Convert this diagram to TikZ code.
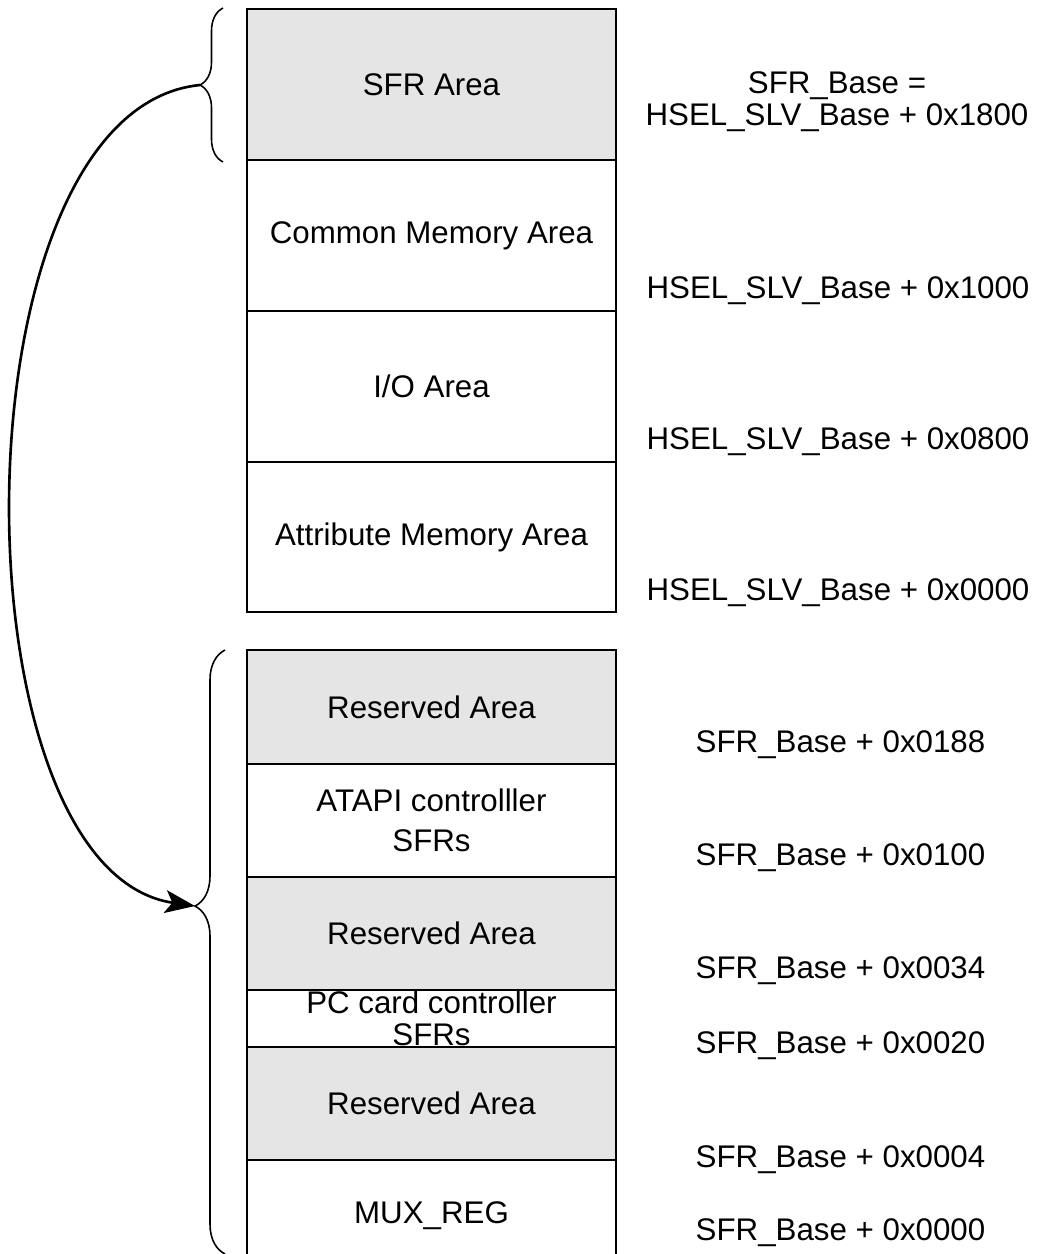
\documentclass[tikz,border=0pt]{standalone}
\usepackage{fontspec}
\setmainfont{Liberation Sans}
\usepackage{tikz}
\usetikzlibrary{arrows.meta,positioning,decorations.pathreplacing}
\definecolor{resvgray}{HTML}{E5E5E5}

\begin{document}
\begin{tikzpicture}[
			area/.style={draw=black,line width=1.1pt,fill=white,minimum width=7.38cm,align=center,outer sep=0pt,inner sep=0pt,font=\fontsize{17.8}{23}\selectfont},
			resv/.style={area,fill=resvgray},
			addr/.style={align=center,font=\fontsize{17.8}{18}\selectfont},
			brc/.style={decorate,line width=0.9pt},
			arr/.style={-{Stealth[length=17pt,width=13pt,inset=4pt]},line width=1.5pt}
			]
			\useasboundingbox (0,0) rectangle (20.72,-25.08);
			% HSEL slave map
			\node[resv,minimum height=3.02cm,anchor=north] (sfr) at (8.63,-0.18) {SFR Area};
			\node[area,minimum height=3.02cm] (common) [below=0pt of sfr] {Common Memory Area};
			\node[area,minimum height=3.02cm] (io) [below=0pt of common] {I/O Area};
			\node[area,minimum height=3.00cm] (attr) [below=0pt of io] {Attribute Memory Area};
			% SFR map
			\node[resv,minimum height=2.28cm,anchor=north] (resva) at (8.63,-13.0) {Reserved Area};
			\node[area,minimum height=2.26cm] (atapi) [below=0pt of resva] {ATAPI controlller\\SFRs};
			\node[resv,minimum height=2.26cm] (resvb) [below=0pt of atapi] {Reserved Area};
			\node[area,minimum height=1.14cm,font=\fontsize{17.8}{18.5}\selectfont] (pccard) [below=0pt of resvb] {PC card controller\\SFRs};
			\node[resv,minimum height=2.26cm] (resvc) [below=0pt of pccard] {Reserved Area};
			\node[area,minimum height=2.24cm] (mux) [below=0pt of resvc] {MUX\_REG};
			% addresses
			\node[addr] (sfrbase) at (16.74,-2.04) {SFR\_Base =\\HSEL\_SLV\_Base + 0x1800};
			\node[addr] (hsela) at (16.76,-5.82) {HSEL\_SLV\_Base + 0x1000};
			\node[addr] (hselb) at (16.76,-8.84) {HSEL\_SLV\_Base + 0x0800};
			\node[addr] (hselc) at (16.76,-11.86) {HSEL\_SLV\_Base + 0x0000};
			\node[addr] (sfra) at (16.81,-14.90) {SFR\_Base + 0x0188};
			\node[addr] (sfrb) at (16.81,-17.16) {SFR\_Base + 0x0100};
			\node[addr] (sfrc) at (16.81,-19.42) {SFR\_Base + 0x0034};
			\node[addr] (sfrd) at (16.81,-20.92) {SFR\_Base + 0x0020};
			\node[addr] (sfre) at (16.81,-23.20) {SFR\_Base + 0x0004};
			\node[addr] (sfrf) at (16.81,-24.66) {SFR\_Base + 0x0000};
			% braces and the link between them
			\draw[brc,decoration={brace,amplitude=0.46cm,aspect=0.5}] (4.46,-3.24) -- (4.46,-0.16);
			\draw[brc,decoration={brace,amplitude=0.6cm,aspect=0.576}] (4.50,-25.08) -- (4.50,-13.0);
			\coordinate (tipa) at (4.0,-1.70);
			\coordinate (tipb) at (3.90,-18.12);
			\draw[arr] (tipa) .. controls (-1.0,-2.2) and (-1.0,-17.4) .. (tipb);
		\end{tikzpicture}
\end{document}
